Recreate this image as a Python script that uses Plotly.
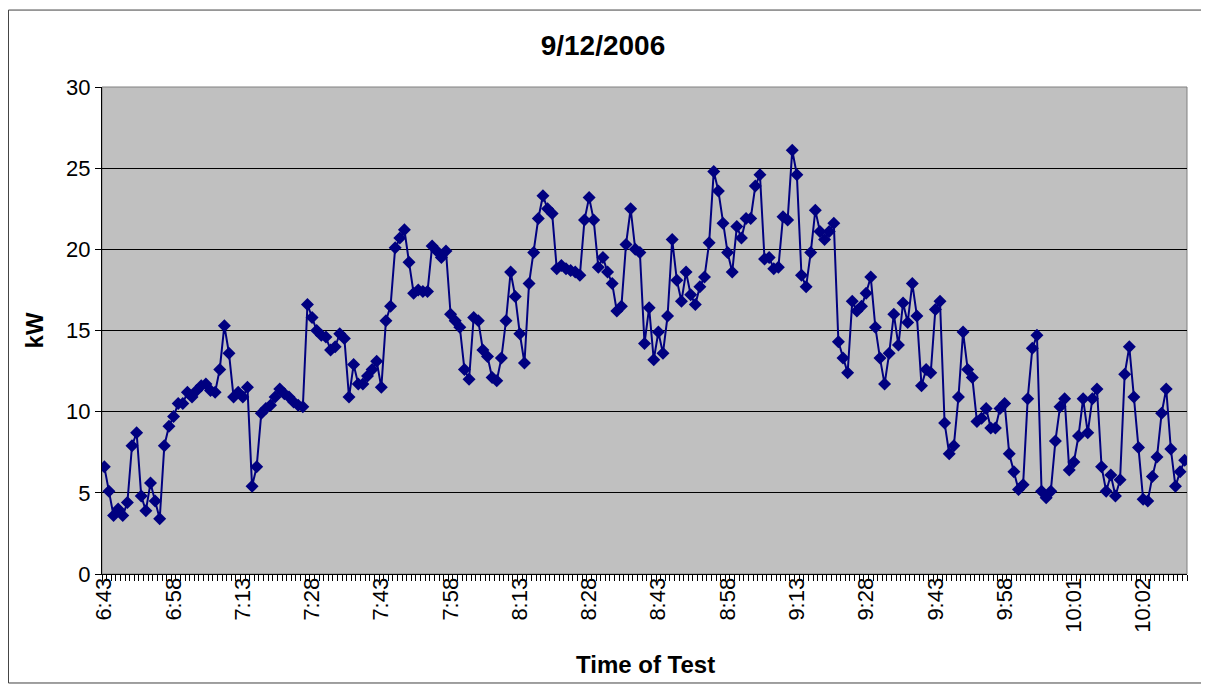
import plotly.graph_objects as go

# kW readings, one per sample
kw = [
    6.6, 5.1, 3.6, 4.0, 3.6, 4.4, 7.9, 8.7, 4.8, 3.9,
    5.6, 4.5, 3.4, 7.9, 9.1, 9.7, 10.5, 10.5, 11.2, 10.9,
    11.3, 11.6, 11.7, 11.3, 11.2, 12.6, 15.3, 13.6, 10.9, 11.2,
    10.9, 11.5, 5.4, 6.6, 9.9, 10.2, 10.4, 10.9, 11.4, 11.1,
    10.9, 10.6, 10.4, 10.3, 16.6, 15.8, 15.0, 14.7, 14.6, 13.8,
    14.0, 14.8, 14.5, 10.9, 12.9, 11.7, 11.7, 12.2, 12.6, 13.1,
    11.5, 15.6, 16.5, 20.1, 20.7, 21.2, 19.2, 17.3, 17.5, 17.4,
    17.4, 20.2, 19.9, 19.5, 19.9, 16.0, 15.6, 15.2, 12.6, 12.0,
    15.8, 15.6, 13.8, 13.4, 12.1, 11.9, 13.3, 15.6, 18.6, 17.1,
    14.8, 13.0, 17.9, 19.8, 21.9, 23.3, 22.5, 22.2, 18.8, 19.0,
    18.8, 18.7, 18.6, 18.4, 21.8, 23.2, 21.8, 18.9, 19.5, 18.6,
    17.9, 16.2, 16.5, 20.3, 22.5, 20.0, 19.8, 14.2, 16.4, 13.2,
    14.9, 13.6, 15.9, 20.6, 18.1, 16.8, 18.6, 17.2, 16.6, 17.7,
    18.3, 20.4, 24.8, 23.6, 21.6, 19.8, 18.6, 21.4, 20.7, 21.9,
    21.9, 23.9, 24.6, 19.4, 19.5, 18.8, 18.9, 22.0, 21.8, 26.1,
    24.6, 18.4, 17.7, 19.8, 22.4, 21.1, 20.6, 21.1, 21.6, 14.3,
    13.3, 12.4, 16.8, 16.2, 16.5, 17.3, 18.3, 15.2, 13.3, 11.7,
    13.6, 16.0, 14.1, 16.7, 15.5, 17.9, 15.9, 11.6, 12.6, 12.4,
    16.3, 16.8, 9.3, 7.4, 7.9, 10.9, 14.9, 12.6, 12.1, 9.4,
    9.6, 10.2, 9.0, 9.0, 10.2, 10.5, 7.4, 6.3, 5.2, 5.5,
    10.8, 13.9, 14.7, 5.1, 4.7, 5.1, 8.2, 10.3, 10.8, 6.4,
    6.9, 8.5, 10.8, 8.7, 10.8, 11.4, 6.6, 5.1, 6.1, 4.8,
    5.8, 12.3, 14.0, 10.9, 7.8, 4.6, 4.5, 6.0, 7.2, 9.9,
    11.4, 7.7, 5.4, 6.3, 7.0,
]

# labelled samples on the category axis (every 15th)
tick_pos = [0, 15, 30, 45, 60, 75, 90, 105, 120, 135, 150, 165, 180, 195, 210, 225]
tick_labels = ["6:43", "6:58", "7:13", "7:28", "7:43", "7:58", "8:13", "8:28",
               "8:43", "8:58", "9:13", "9:28", "9:43", "9:58", "10:01", "10:02"]

n = len(kw)
x = list(range(n))

fig = go.Figure()
fig.add_trace(go.Scatter(
    x=x, y=kw, mode="lines+markers",
    line=dict(color="#000080", width=2),
    marker=dict(symbol="diamond", size=10, color="#000080"),
    showlegend=False,
))

# plot area border (gray) and outer chart border
fig.add_shape(type="rect", xref="paper", yref="paper", x0=0, y0=0, x1=1, y1=1,
              line=dict(color="#808080", width=1), layer="below")
fig.add_shape(type="rect", xref="paper", yref="paper",
              x0=-0.0862, y0=-0.2238, x1=1.0157, y1=1.158,
              line=dict(color="#404040", width=1))

# page body has an 8px margin, so the figure is sized/offset to compensate
fig.update_layout(
    width=1201, height=678,
    margin=dict(l=94, r=22, t=79, b=112),
    paper_bgcolor="white",
    plot_bgcolor="#C0C0C0",
    font=dict(family="Liberation Sans, Arial, sans-serif", size=22, color="black"),
    title=dict(text="<b>9/12/2006</b>", x=0.4954, xanchor="center", y=0.9454,
               yanchor="middle", font=dict(size=28)),
    xaxis=dict(
        range=[-0.5, n - 0.5],
        tickmode="array", tickvals=tick_pos, ticktext=tick_labels,
        tickangle=-90, ticks="", showgrid=False, zeroline=False,
        showline=True, linecolor="black", linewidth=1,
        ticklabelstandoff=-6,
        minor=dict(tickmode="linear", tick0=0.5, dtick=1, ticks="outside",
                   ticklen=6, tickcolor="black", showgrid=False),
    ),
    yaxis=dict(
        range=[0, 30], dtick=5, showgrid=True, gridcolor="black", gridwidth=1,
        zeroline=False, showline=True, linecolor="black", linewidth=1,
        ticks="outside", ticklen=6, tickcolor="black",
    ),
    annotations=[
        dict(text="<b>kW</b>", xref="paper", yref="paper", x=-0.0618, y=0.5,
             xanchor="center", yanchor="middle",
             textangle=-90, showarrow=False, font=dict(size=24)),
        dict(text="<b>Time of Test</b>", xref="paper", yref="paper", x=0.5005,
             y=-0.185, xanchor="center", yanchor="middle",
             showarrow=False, font=dict(size=24)),
    ],
)

fig.write_html("out.html")
